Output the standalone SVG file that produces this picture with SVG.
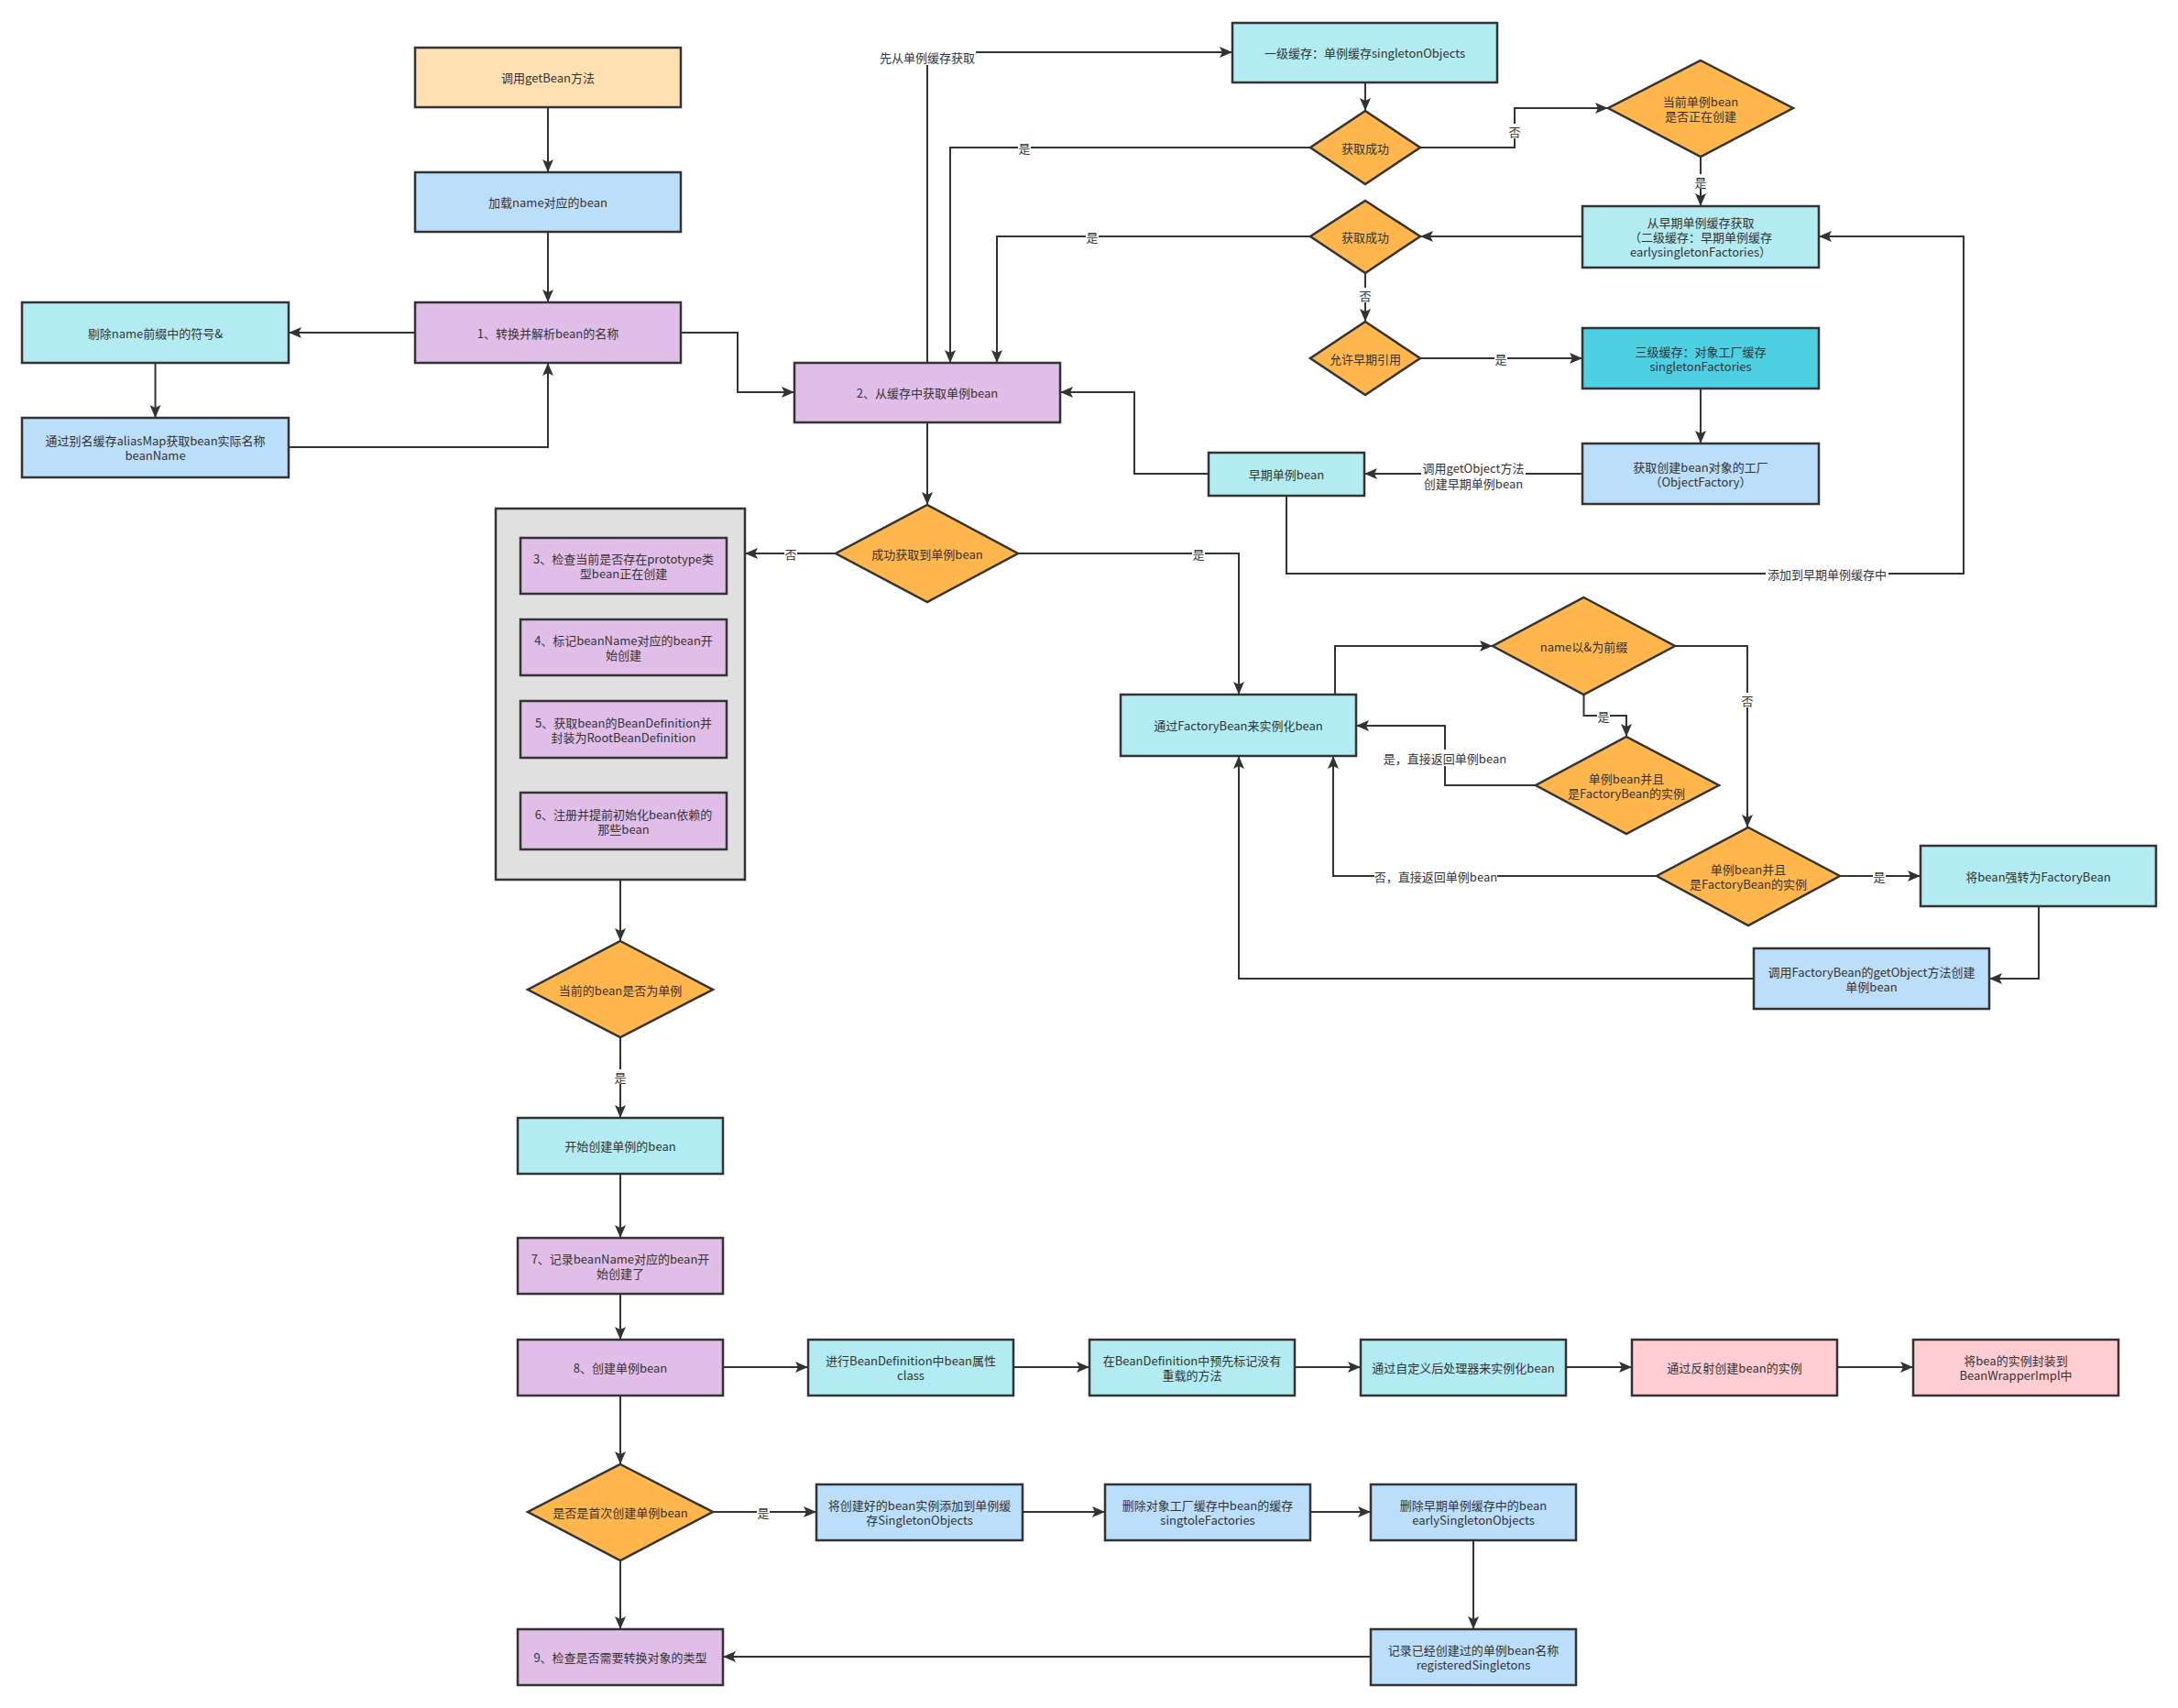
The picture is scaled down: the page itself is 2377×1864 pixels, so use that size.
<svg xmlns="http://www.w3.org/2000/svg" width="2377" height="1864" viewBox="0 0 2377 1864">
<style>
text{font-family:"Noto Sans CJK SC","Noto Sans",sans-serif;font-size:13px;fill:#333;text-anchor:middle;dominant-baseline:central}
.n{stroke:#333;stroke-width:2.5}
.peach{fill:#FFE0B2}.blue{fill:#BBDEFB}.cyan{fill:#B2EBF2}.purple{fill:#E1BEE7}.orange{fill:#FFB74D}.teal{fill:#4DD0E1}.pink{fill:#FFCDD2}.gray{fill:#E0E0E0}
.e{fill:none;stroke:#333;stroke-width:2;marker-end:url(#arr)}
.lb{fill:#fff}
</style>
<defs>
<marker id="arr" markerUnits="userSpaceOnUse" markerWidth="14" markerHeight="12" viewBox="0 0 14 12" refX="14" refY="6" orient="auto">
<path d="M0,0 L14,6 L0,12 L3,6 z" fill="#333"/>
</marker>
</defs>
<rect width="2377" height="1864" fill="#fff"/>

<g id="connectors">
<path class="e" d="M598,117 V188"/>
<path class="e" d="M598,253 V330"/>
<path class="e" d="M453,363 H315"/>
<path class="e" d="M169.5,396 V456"/>
<path class="e" d="M315,488 H598 V396"/>
<path class="e" d="M743,363 H805 V428 H867"/>
<path class="e" d="M1012,396 V57 H1345"/>
<path class="e" d="M1490,90 V121"/>
<path class="e" d="M1430,161 H1037 V396"/>
<path class="e" d="M1550,161 H1653 V118 H1755"/>
<path class="e" d="M1856,171 V225"/>
<path class="e" d="M1727,258 H1550"/>
<path class="e" d="M1430,258 H1088 V396"/>
<path class="e" d="M1490,298 V351"/>
<path class="e" d="M1550,391 H1727"/>
<path class="e" d="M1856,424 V484"/>
<path class="e" d="M1727,517 H1489"/>
<path class="e" d="M1319,517 H1238 V428 H1157"/>
<path class="e" d="M1404,541 V626 H2143 V258 H1985"/>
<path class="e" d="M1012,461 V551"/>
<path class="e" d="M912,604 H813"/>
<path class="e" d="M1111,604 H1352 V758"/>
<path class="e" d="M677,960 V1027"/>
<path class="e" d="M677,1132 V1220"/>
<path class="e" d="M677,1281 V1351"/>
<path class="e" d="M677,1412 V1462"/>
<path class="e" d="M789,1492 H882"/>
<path class="e" d="M1106,1492 H1189"/>
<path class="e" d="M1413,1492 H1485"/>
<path class="e" d="M1709,1492 H1781"/>
<path class="e" d="M2005,1492 H2088"/>
<path class="e" d="M677,1523 V1598"/>
<path class="e" d="M778,1650 H891"/>
<path class="e" d="M1116,1650 H1206"/>
<path class="e" d="M1430,1650 H1496"/>
<path class="e" d="M1608,1681 V1778"/>
<path class="e" d="M1496,1808 H789"/>
<path class="e" d="M677,1703 V1778"/>
<path class="e" d="M1457,758 V705 H1629"/>
<path class="e" d="M1728.5,758 V781 H1775 V804"/>
<path class="e" d="M1676,857 H1577 V792 H1480"/>
<path class="e" d="M1828,705 H1907 V903"/>
<path class="e" d="M1808,956 H1455 V825"/>
<path class="e" d="M2008,956 H2096"/>
<path class="e" d="M2225,989 V1068 H2171"/>
<path class="e" d="M1914,1068 H1352 V825"/>

<g id="edge-labels">
<rect class="lb" x="959" y="53" width="106" height="18"/><text x="1012" y="62">先从单例缓存获取</text>
<rect class="lb" x="1111" y="153" width="14" height="16"/><text x="1118" y="161">是</text>
<rect class="lb" x="1646" y="135" width="14" height="16"/><text x="1653" y="143">否</text>
<rect class="lb" x="1849" y="190" width="14" height="16"/><text x="1856" y="198">是</text>
<rect class="lb" x="1185" y="250" width="14" height="16"/><text x="1192" y="258">是</text>
<rect class="lb" x="1483" y="314" width="14" height="16"/><text x="1490" y="322">否</text>
<rect class="lb" x="1631" y="383" width="14" height="16"/><text x="1638" y="391">是</text>
<rect class="lb" x="1551" y="502" width="114" height="33"/><text x="1608" y="510">调用getObject方法</text><text x="1608" y="527">创建早期单例bean</text>
<rect class="lb" x="1927" y="617" width="134" height="18"/><text x="1994" y="626">添加到早期单例缓存中</text>
<rect class="lb" x="856" y="596" width="14" height="16"/><text x="863" y="604">否</text>
<rect class="lb" x="1301" y="596" width="14" height="16"/><text x="1308" y="604">是</text>
<rect class="lb" x="670" y="1167" width="14" height="16"/><text x="677" y="1175">是</text>
<rect class="lb" x="826" y="1642" width="14" height="16"/><text x="833" y="1650">是</text>
<rect class="lb" x="1743" y="773" width="14" height="16"/><text x="1750" y="781">是</text>
<rect class="lb" x="1510" y="818" width="134" height="18"/><text x="1577" y="827">是，直接返回单例bean</text>
<rect class="lb" x="1900" y="756" width="14" height="16"/><text x="1907" y="764">否</text>
<rect class="lb" x="1500" y="947" width="134" height="18"/><text x="1567" y="956">否，直接返回单例bean</text>
<rect class="lb" x="2044" y="948" width="14" height="16"/><text x="2051" y="956">是</text>
</g>
</g>

<g id="A"><rect class="n peach" x="453" y="52" width="290" height="65"/><text x="598" y="84.5">调用getBean方法</text></g>
<g id="B"><rect class="n blue" x="453" y="188" width="290" height="65"/><text x="598" y="220.5">加载name对应的bean</text></g>
<g id="C"><rect class="n purple" x="453" y="330" width="290" height="66"/><text x="598" y="363">1、转换并解析bean的名称</text></g>
<g id="D"><rect class="n cyan" x="24" y="330" width="291" height="66"/><text x="169.5" y="363">剔除name前缀中的符号&amp;</text></g>
<g id="E"><rect class="n blue" x="24" y="456" width="291" height="65"/><text x="169.5" y="480.5">通过别名缓存aliasMap获取bean实际名称</text><text x="169.5" y="496.5">beanName</text></g>
<g id="F"><rect class="n purple" x="867" y="396" width="290" height="65"/><text x="1012" y="428.5">2、从缓存中获取单例bean</text></g>
<g id="G"><rect class="n cyan" x="1345" y="25" width="289" height="65"/><text x="1489.5" y="57.5">一级缓存：单例缓存singletonObjects</text></g>
<g id="H"><polygon class="n orange" points="1490,121 1550,161 1490,201 1430,161"/><text x="1490" y="161">获取成功</text></g>
<g id="I"><polygon class="n orange" points="1856,66 1957,118 1856,171 1755,118"/><text x="1856" y="110">当前单例bean</text><text x="1856" y="126">是否正在创建</text></g>
<g id="J"><rect class="n cyan" x="1727" y="225" width="258" height="67"/><text x="1856" y="242">从早期单例缓存获取</text><text x="1856" y="258">（二级缓存：早期单例缓存</text><text x="1856" y="274">earlysingletonFactories）</text></g>
<g id="K"><polygon class="n orange" points="1490,219 1550,258 1490,298 1430,258"/><text x="1490" y="258">获取成功</text></g>
<g id="L"><polygon class="n orange" points="1490,351 1550,391 1490,431 1430,391"/><text x="1490" y="391">允许早期引用</text></g>
<g id="M"><rect class="n teal" x="1727" y="358" width="258" height="66"/><text x="1856" y="383">三级缓存：对象工厂缓存</text><text x="1856" y="399">singletonFactories</text></g>
<g id="N"><rect class="n blue" x="1727" y="484" width="258" height="66"/><text x="1856" y="509">获取创建bean对象的工厂</text><text x="1856" y="525">（ObjectFactory）</text></g>
<g id="O"><rect class="n cyan" x="1319" y="494" width="170" height="47"/><text x="1404" y="517.5">早期单例bean</text></g>
<g id="P"><polygon class="n orange" points="1012,551 1111,604 1012,657 912,604"/><text x="1012" y="604">成功获取到单例bean</text></g>
<g id="Q"><rect class="n gray" x="541" y="555" width="272" height="405"/>
<g id="Q1"><rect class="n purple" x="568" y="587" width="225" height="61"/><text x="680.5" y="609.5">3、检查当前是否存在prototype类</text><text x="680.5" y="625.5">型bean正在创建</text></g>
<g id="Q2"><rect class="n purple" x="568" y="676" width="225" height="61"/><text x="680.5" y="698.5">4、标记beanName对应的bean开</text><text x="680.5" y="714.5">始创建</text></g>
<g id="Q3"><rect class="n purple" x="568" y="765" width="225" height="62"/><text x="680.5" y="788">5、获取bean的BeanDefinition并</text><text x="680.5" y="804">封装为RootBeanDefinition</text></g>
<g id="Q4"><rect class="n purple" x="568" y="865" width="225" height="62"/><text x="680.5" y="888">6、注册并提前初始化bean依赖的</text><text x="680.5" y="904">那些bean</text></g>
</g>
<g id="S"><polygon class="n orange" points="677,1027 778,1080 677,1132 576,1080"/><text x="677" y="1080">当前的bean是否为单例</text></g>
<g id="T"><rect class="n cyan" x="565" y="1220" width="224" height="61"/><text x="677" y="1250.5">开始创建单例的bean</text></g>
<g id="U"><rect class="n purple" x="565" y="1351" width="224" height="61"/><text x="677" y="1373.5">7、记录beanName对应的bean开</text><text x="677" y="1389.5">始创建了</text></g>
<g id="V"><rect class="n purple" x="565" y="1462" width="224" height="61"/><text x="677" y="1492.5">8、创建单例bean</text></g>
<g id="Y1"><rect class="n cyan" x="882" y="1462" width="224" height="61"/><text x="994" y="1484.5">进行BeanDefinition中bean属性</text><text x="994" y="1500.5">class</text></g>
<g id="Y2"><rect class="n cyan" x="1189" y="1462" width="224" height="61"/><text x="1301" y="1484.5">在BeanDefinition中预先标记没有</text><text x="1301" y="1500.5">重载的方法</text></g>
<g id="Y3"><rect class="n cyan" x="1485" y="1462" width="224" height="61"/><text x="1597" y="1492.5">通过自定义后处理器来实例化bean</text></g>
<g id="Y4"><rect class="n pink" x="1781" y="1462" width="224" height="61"/><text x="1893" y="1492.5">通过反射创建bean的实例</text></g>
<g id="Y5"><rect class="n pink" x="2088" y="1462" width="224" height="61"/><text x="2200" y="1484.5">将bea的实例封装到</text><text x="2200" y="1500.5">BeanWrapperImpl中</text></g>
<g id="W"><polygon class="n orange" points="677,1598 778,1650 677,1703 576,1650"/><text x="677" y="1650">是否是首次创建单例bean</text></g>
<g id="Z1"><rect class="n blue" x="891" y="1620" width="225" height="61"/><text x="1003.5" y="1642.5">将创建好的bean实例添加到单例缓</text><text x="1003.5" y="1658.5">存SingletonObjects</text></g>
<g id="Z2"><rect class="n blue" x="1206" y="1620" width="224" height="61"/><text x="1318" y="1642.5">删除对象工厂缓存中bean的缓存</text><text x="1318" y="1658.5">singtoleFactories</text></g>
<g id="Z3"><rect class="n blue" x="1496" y="1620" width="224" height="61"/><text x="1608" y="1642.5">删除早期单例缓存中的bean</text><text x="1608" y="1658.5">earlySingletonObjects</text></g>
<g id="Z4"><rect class="n blue" x="1496" y="1778" width="224" height="61"/><text x="1608" y="1800.5">记录已经创建过的单例bean名称</text><text x="1608" y="1816.5">registeredSingletons</text></g>
<g id="X"><rect class="n purple" x="565" y="1778" width="224" height="61"/><text x="677" y="1808.5">9、检查是否需要转换对象的类型</text></g>
<g id="R"><rect class="n cyan" x="1223" y="758" width="257" height="67"/><text x="1351.5" y="791.5">通过FactoryBean来实例化bean</text></g>
<g id="AA"><polygon class="n orange" points="1728.5,652 1828,705 1728.5,758 1629,705"/><text x="1728.5" y="705">name以&amp;为前缀</text></g>
<g id="AB"><polygon class="n orange" points="1775,804 1876,857 1775,910 1676,857"/><text x="1775" y="849">单例bean并且</text><text x="1775" y="865">是FactoryBean的实例</text></g>
<g id="AC"><polygon class="n orange" points="1908,903 2008,956 1908,1010 1808,956"/><text x="1908" y="948">单例bean并且</text><text x="1908" y="964">是FactoryBean的实例</text></g>
<g id="AD"><rect class="n cyan" x="2096" y="923" width="257" height="66"/><text x="2224.5" y="956">将bean强转为FactoryBean</text></g>
<g id="AE"><rect class="n blue" x="1914" y="1035" width="257" height="66"/><text x="2042.5" y="1060">调用FactoryBean的getObject方法创建</text><text x="2042.5" y="1076">单例bean</text></g>
</svg>
